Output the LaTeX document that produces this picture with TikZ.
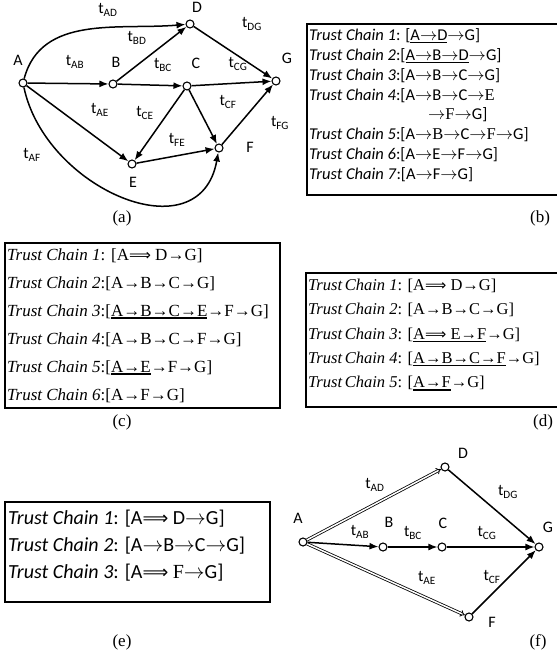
\documentclass[tikz,border=0pt]{standalone}
\usepackage{fontspec}
\setmainfont{Liberation Serif}
\newfontfamily\calibri{Carlito}
\newfontfamily\arrowfont{DejaVu Sans}
\usetikzlibrary{arrows.meta,positioning}

% underline of the chosen part of a chain
\newcommand{\uchain}[1]{\setbox0\hbox{#1}\rlap{\rule[-2.8pt]{\wd0}{1.4pt}}\box0}
\newcommand{\ra}{$\rightarrow$}
\newcommand{\Ra}{{\arrowfont\addfontfeature{Scale=0.9}⟹}}

\begin{document}
\begin{tikzpicture}[
  x=1pt, y=1pt,
  vert/.style={circle,draw,fill=white,line width=1.1pt,inner sep=0pt,minimum size=8pt},
  link/.style={-{Latex[length=9pt,width=7pt]},line width=1.5pt},
  dlink/.style={double,double distance=1.5pt,line width=0.8pt,-{Implies}},
  lbl/.style={inner sep=0pt,font=\calibri\fontsize{16}{18}\selectfont},
  capt/.style={inner sep=0pt,font=\fontsize{17}{20}\selectfont},
  panel/.style={line width=1.6pt},
  chains/.style={anchor=north west,align=left,inner sep=0pt}
]
  \useasboundingbox (0,0) rectangle (557,-659);

  % (a) full graph
  \node[vert] (A) at (23,-83) {};
  \node[vert] (B) at (113,-84) {};
  \node[vert] (D) at (190,-24) {};
  \node[vert] (C) at (187,-86) {};
  \node[vert] (G) at (276,-81) {};
  \node[vert] (F) at (219,-148) {};
  \node[vert] (E) at (132,-164) {};

  \node[lbl] (nA) at (18,-60) {A};
  \node[lbl] (nB) at (116,-62) {B};
  \node[lbl] (nD) at (197,-7) {D};
  \node[lbl] (nC) at (196,-63) {C};
  \node[lbl] (nG) at (287,-58) {G};
  \node[lbl] (nF) at (250,-147) {F};
  \node[lbl] (nE) at (133,-182) {E};

  \node[lbl] (tAD) at (108,-10) {t\textsubscript{AD}};
  \node[lbl] (tBD) at (137,-38) {t\textsubscript{BD}};
  \node[lbl] (tAB) at (75,-62) {t\textsubscript{AB}};
  \node[lbl] (tBC) at (163,-65) {t\textsubscript{BC}};
  \node[lbl] (tCG) at (238,-64) {t\textsubscript{CG}};
  \node[lbl] (tDG) at (252,-24) {t\textsubscript{DG}};
  \node[lbl] (tAE) at (100,-110) {t\textsubscript{AE}};
  \node[lbl] (tCE) at (145,-113) {t\textsubscript{CE}};
  \node[lbl] (tCF) at (228,-102) {t\textsubscript{CF}};
  \node[lbl] (tFG) at (280,-123) {t\textsubscript{FG}};
  \node[lbl] (tFE) at (177,-140) {t\textsubscript{FE}};
  \node[lbl] (tAF) at (32,-155) {t\textsubscript{AF}};

  \draw[link] (A) to[out=75,in=185] (D);
  \draw[link] (A) -- (B);
  \draw[link] (A) -- (E);
  \draw[link] (A) to[out=-78,in=-100,looseness=1.3] (F);
  \draw[link] (B) -- (D);
  \draw[link] (B) -- (C);
  \draw[link] (D) -- (G);
  \draw[link] (C) -- (G);
  \draw[link] (C) -- (E);
  \draw[link] (C) -- (F);
  \draw[link] (E) -- (F);
  \draw[link] (F) -- (G);

  \node[capt] (capA) at (122,-218) {(a)};

  % (b) seven chains
  \draw[panel] (307,-24) rectangle (559,-195);
  \node[chains,font=\calibri\fontsize{16.5}{19.8}\selectfont] (chainsB) at (309,-28.5) {%
    \textit{Trust Chain 1}: [\uchain{A\ra D}\ra G]\\
    \textit{Trust Chain 2}:[\uchain{A\ra B\ra D}\ra G]\\
    \textit{Trust Chain 3}:[A\ra B\ra C\ra G]\\
    \textit{Trust Chain 4}:[A\ra B\ra C\ra{\rmfamily E}\\
    \hspace*{119pt}\ra{\rmfamily F}\ra G]\\
    \textit{Trust Chain 5}:[A\ra{\rmfamily B}\ra C\ra{\rmfamily F}\ra G]\\
    \textit{Trust Chain 6}:[A\ra E\ra F\ra G]\\
    \textit{Trust Chain 7}:[A\ra F\ra G]};
  \node[capt] (capB) at (540,-218) {(b)};

  % (c) six chains
  \draw[panel] (5,-243) rectangle (280,-408);
  \node[chains,font=\fontsize{17}{28}\selectfont] (chainsC) at (7,-248) {%
    \textit{Trust Chain 1}: [A\Ra\ D→G]\\
    \textit{Trust Chain 2}:[A→B→C→G]\\
    \textit{Trust Chain 3}:[\uchain{A→B→C→E}→F→G]\\
    \textit{Trust Chain 4}:[A→B→C→F→G]\\
    \textit{Trust Chain 5}:[\uchain{A→E}→F→G]\\
    \textit{Trust Chain 6}:[A→F→G]};
  \node[capt] (capC) at (122,-422) {(c)};

  % (d) five chains
  \draw[panel] (306,-273) rectangle (559,-407);
  \node[chains,font=\fontsize{16.5}{24.3}\selectfont] (chainsD) at (308,-279) {%
    \textit{Trust\,Chain 1}: [A\Ra\ D→G]\\
    \textit{Trust\,Chain 2}: [A→B→C→G]\\
    \textit{Trust\,Chain 3}: [\uchain{A\Ra\ E→F}→G]\\
    \textit{Trust\,Chain 4}: [\uchain{A→B→C→F}→G]\\
    \textit{Trust\,Chain 5}: [\uchain{A→F}→G]};
  \node[capt] (capD) at (543,-422) {(d)};

  % (e) three chains
  \draw[panel] (5,-502) rectangle (270,-602);
  \node[chains,font=\calibri\fontsize{20}{27}\selectfont] (chainsE) at (8,-510) {%
    \textit{Trust Chain 1}: [A\Ra\ D\ra G]\\
    \textit{Trust Chain 2}: [A\ra B\ra C\ra G]\\
    \textit{Trust Chain 3}: [A\Ra\ {\rmfamily F}\ra G]};
  \node[capt] (capE) at (122,-642) {(e)};

  % (f) reduced graph
  \node[vert] (fA) at (303,-542) {};
  \node[vert] (fB) at (383,-547) {};
  \node[vert] (fC) at (442,-547) {};
  \node[vert] (fD) at (445,-467) {};
  \node[vert] (fG) at (539,-547) {};
  \node[vert] (fF) at (469,-617) {};

  \node[lbl] (fnA) at (298,-518) {A};
  \node[lbl] (fnB) at (389,-522) {B};
  \node[lbl] (fnC) at (443,-523) {C};
  \node[lbl] (fnD) at (463,-453) {D};
  \node[lbl] (fnG) at (548,-527) {G};
  \node[lbl] (fnF) at (492,-622) {F};

  \node[lbl] (ftAD) at (375,-485) {t\textsubscript{AD}};
  \node[lbl] (ftDG) at (508,-492) {t\textsubscript{DG}};
  \node[lbl] (ftAB) at (360,-532) {t\textsubscript{AB}};
  \node[lbl] (ftBC) at (413,-533) {t\textsubscript{BC}};
  \node[lbl] (ftCG) at (487,-533) {t\textsubscript{CG}};
  \node[lbl] (ftAE) at (427,-578) {t\textsubscript{AE}};
  \node[lbl] (ftCF) at (492,-577) {t\textsubscript{CF}};

  \draw[dlink] (fA) -- (fD);
  \draw[dlink] (fA) -- (fF);
  \draw[link] (fA) -- (fB);
  \draw[link] (fB) -- (fC);
  \draw[link] (fC) -- (fG);
  \draw[link] (fD) -- (fG);
  \draw[link] (fF) -- (fG);

  \node[capt] (capF) at (538,-642) {(f)};
\end{tikzpicture}
\end{document}
